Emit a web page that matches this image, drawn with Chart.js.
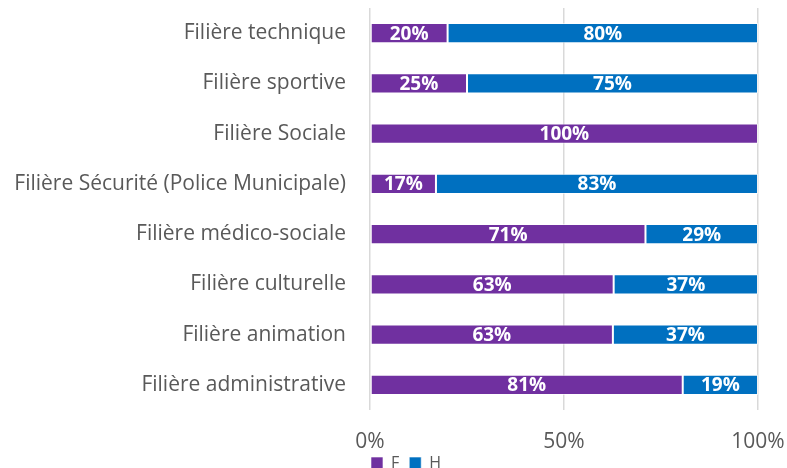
<!DOCTYPE html>
<html>
<head>
<meta charset="utf-8">
<script src="https://cdn.jsdelivr.net/npm/chart.js@4/dist/chart.umd.min.js"></script>
<style>
  html, body { margin: 0; padding: 0; background: #fff; overflow: hidden; }
  #wrap { width: 787px; height: 492px; position: relative; }
</style>
</head>
<body>
<div id="wrap"><canvas id="chart"></canvas></div>
<script>
// categories, top to bottom
const CATEGORIES = [
    'Filière technique',
    'Filière sportive',
    'Filière Sociale',
    'Filière Sécurité (Police Municipale)',
    'Filière médico-sociale',
    'Filière culturelle',
    'Filière animation',
    'Filière administrative'
];
// shares in %
const F_VALUES = [20, 25, 100, 17, 71, 62.8, 62.6, 80.6];
const H_VALUES = [80, 75, 0, 83, 29, 37.2, 37.4, 19.4];
const X_TICKS = [0, 50, 100];

const PURPLE = '#7030A0';
const BLUE = '#0070C0';
const GREY = '#595959';
const FONT = '"Open Sans", sans-serif';

// white centred value labels inside each segment
const barLabels = {
    id: 'barLabels',
    afterDatasetsDraw(chart){
        const ctx = chart.ctx;
        ctx.save();
        ctx.font = 'bold 19px ' + FONT;
        ctx.fillStyle = '#fff';
        ctx.textAlign = 'center';
        ctx.textBaseline = 'middle';
        chart.data.datasets.forEach((ds, i) => {
            const meta = chart.getDatasetMeta(i);
            meta.data.forEach((bar, j) => {
                const v = ds.data[j];
                if(!v) return;
                ctx.fillText(Math.round(v) + '%', (bar.x + bar.base) / 2, bar.y + 1);
            });
        });
        ctx.restore();
    }
};

// the original legend sits right of centre and tucked up under the ticks
const shiftLegend = {
    id: 'shiftLegend',
    afterLayout(chart){
        const lg = chart.legend;
        lg.left += 27; lg.right += 27;
        lg.top -= 11; lg.bottom -= 11;
    }
};

new Chart(document.getElementById('chart'), {
    type: 'bar',
    data: {
        labels: CATEGORIES,
        datasets: [
            { label: 'F', data: F_VALUES, backgroundColor: PURPLE, borderColor: 'rgba(255,255,255,0.6)', borderWidth: 1, borderSkipped: false },
            { label: 'H', data: H_VALUES, backgroundColor: BLUE, borderColor: 'rgba(255,255,255,0.6)', borderWidth: 1, borderSkipped: false }
        ]
    },
    options: {
        indexAxis: 'y',
        responsive: true,
        maintainAspectRatio: false,
        animation: false,
        barPercentage: 0.8,
        categoryPercentage: 0.5,
        layout: { padding: { top: 8, right: 29, left: 0, bottom: 0 } },
        scales: {
            x: {
                stacked: true,
                min: 0, max: 100,
                afterBuildTicks: s => { s.ticks = X_TICKS.map(v => ({ value: v })); },
                afterFit: s => { s.height = 46; s.paddingLeft = 0; s.paddingRight = 0; },
                grid: { color: '#d9d9d9', lineWidth: 1.5, drawTicks: false },
                border: { display: false },
                ticks: { color: GREY, font: { family: FONT, size: 21 }, padding: 19, callback: v => v + '%' }
            },
            y: {
                stacked: true,
                afterFit: s => { s.width = 370; s.paddingTop = 0; s.paddingBottom = 0; },
                grid: { display: false, drawTicks: false },
                border: { display: false },
                ticks: { color: GREY, font: { family: FONT, size: 21 }, padding: 24 }
            }
        },
        plugins: {
            legend: {
                position: 'bottom',
                labels: { color: GREY, font: { family: FONT, size: 16 }, boxWidth: 12, boxHeight: 12, padding: 10 }
            },
            tooltip: { enabled: false }
        }
    },
    plugins: [barLabels, shiftLegend]
});
</script>
</body>
</html>
